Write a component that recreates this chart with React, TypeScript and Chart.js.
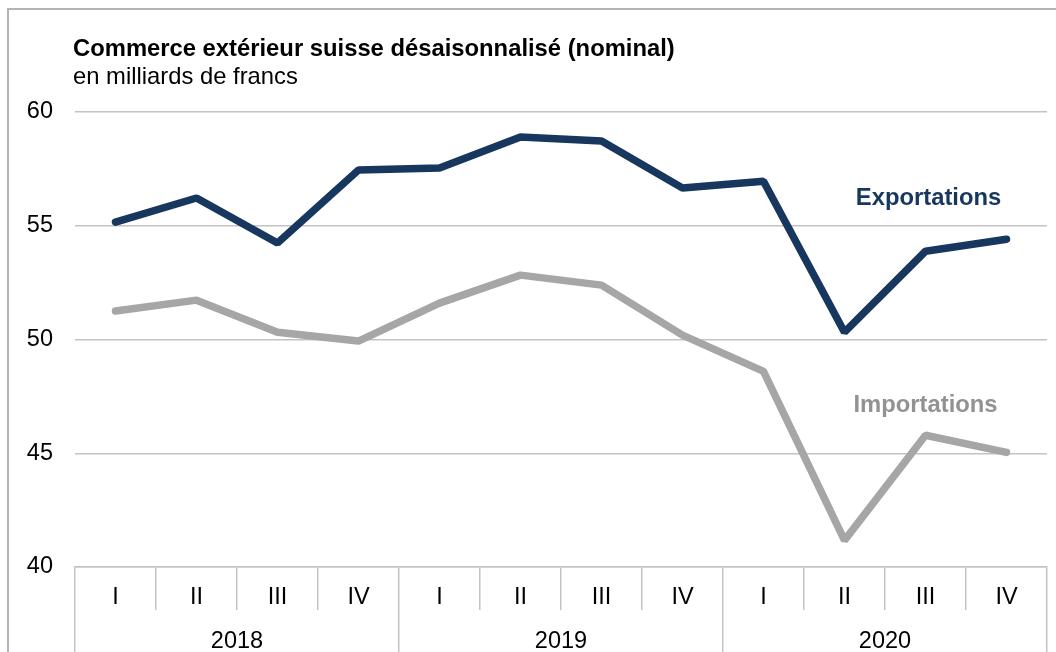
import React, { useEffect, useRef } from 'react';
import { Chart, registerables } from 'chart.js';

Chart.register(...registerables);

const quarters = ['I', 'II', 'III', 'IV', 'I', 'II', 'III', 'IV', 'I', 'II', 'III', 'IV'];
const years = ['2018', '2019', '2020'];
const exportations = [55.16, 56.22, 54.24, 57.45, 57.54, 58.9, 58.72, 56.66, 56.96, 50.32, 53.88, 54.41];
const importations = [51.25, 51.73, 50.32, 49.93, 51.6, 52.83, 52.39, 50.19, 48.6, 41.17, 45.79, 45.04];
const seriesNames = ['Exportations', 'Importations'];
const titleText = 'Commerce extérieur suisse désaisonnalisé (nominal)';
const subtitleText = 'en milliards de francs';

const FONT = '"Liberation Sans", Arial, Helvetica, sans-serif';
const FS = 23.8;
const AXFS = 23.5;
const NAVY = '#17375e';
const GRAY = '#a6a6a6';
const GRID = '#c3c3c3';

const decor = {
  id: 'decor',
  beforeDraw(chart: any) {
    const ctx = chart.ctx;
    ctx.save();
    ctx.fillStyle = '#ffffff';
    ctx.fillRect(0, 0, chart.width, chart.height);
    ctx.strokeStyle = '#b4b4b4';
    ctx.lineWidth = 2;
    ctx.strokeRect(8, 9, 3000, 3000);
    ctx.restore();
  },
  afterDraw(chart: any) {
    const ctx = chart.ctx;
    const left = chart.chartArea.left;
    const xs = chart.scales.x;
    const ys = chart.scales.y;
    ctx.save();
    ctx.textAlign = 'left';
    ctx.textBaseline = 'alphabetic';
    ctx.fillStyle = '#000';
    ctx.font = `bold ${FS}px ${FONT}`;
    ctx.fillText(titleText, left - 2, 56);
    ctx.font = `${FS}px ${FONT}`;
    ctx.fillText(subtitleText, left - 2, 84);
    ctx.font = `bold ${FS}px ${FONT}`;
    ctx.textAlign = 'center';
    ctx.fillStyle = NAVY;
    ctx.fillText(seriesNames[0], xs.getPixelForValue(10) + 3, ys.getPixelForValue(55.93));
    ctx.fillStyle = '#929292';
    ctx.fillText(seriesNames[1], xs.getPixelForValue(10), ys.getPixelForValue(46.8));
    ctx.restore();
  },
};

export default function App() {
  const ref = useRef<HTMLCanvasElement>(null);
  useEffect(() => {
    if (!ref.current) return;
    const chart = new Chart(ref.current, {
      type: 'line',
      data: {
        labels: quarters,
        datasets: [
          {
            label: seriesNames[0],
            data: exportations,
            borderColor: NAVY,
            borderWidth: 7.5,
            pointRadius: 0,
            tension: 0,
            borderCapStyle: 'round',
            borderJoinStyle: 'bevel',
          },
          {
            label: seriesNames[1],
            data: importations,
            borderColor: GRAY,
            borderWidth: 7.5,
            pointRadius: 0,
            tension: 0,
            borderCapStyle: 'round',
            borderJoinStyle: 'bevel',
          },
        ],
      },
      options: {
        responsive: false,
        animation: false,
        devicePixelRatio: 1,
        layout: { padding: { top: 112, right: 9, left: 0, bottom: 0 } },
        plugins: { legend: { display: false }, tooltip: { enabled: false }, title: { display: false } },
        scales: {
          x: {
            type: 'category',
            position: 'bottom',
            offset: true,
            grid: { offset: true, drawOnChartArea: false, drawTicks: true, tickLength: 43, color: GRID, lineWidth: 1.5 },
            border: { display: true, color: GRID, width: 1.5 },
            ticks: { color: '#000', font: { family: FONT, size: AXFS }, padding: -27, maxRotation: 0, autoSkip: false },
            afterFit: (s: any) => { s.height = 43; },
          },
          x2: {
            type: 'category',
            labels: years,
            position: 'bottom',
            offset: true,
            grid: { offset: true, drawOnChartArea: false, drawTicks: true, tickLength: 42, color: GRID, lineWidth: 1.5 },
            border: { display: false },
            ticks: { color: '#000', font: { family: FONT, size: AXFS }, padding: -25, maxRotation: 0, autoSkip: false },
            afterFit: (s: any) => { s.height = 42; },
          },
          y: {
            min: 40,
            max: 60,
            ticks: { stepSize: 5, color: '#000', font: { family: FONT, size: AXFS }, padding: 22 },
            grid: { drawTicks: false, color: GRID, lineWidth: 1.5 },
            border: { display: false },
            afterFit: (s: any) => { s.width = 75; },
          },
        },
      },
      plugins: [decor],
    });
    return () => chart.destroy();
  }, []);
  return (
    <div style={{ position: 'absolute', left: 0, top: 0, width: 1056, height: 652 }}>
      <canvas ref={ref} width={1056} height={652} style={{ display: 'block' }} />
    </div>
  );
}
